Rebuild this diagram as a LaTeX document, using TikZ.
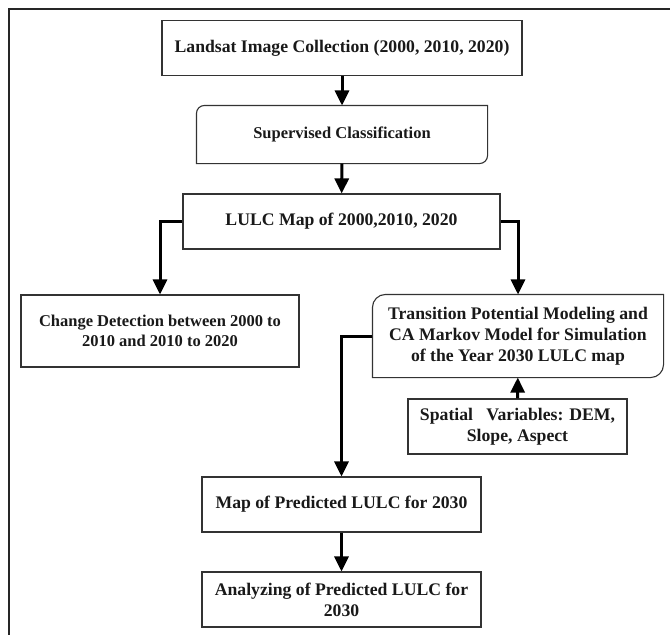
\documentclass[tikz,border=0pt]{standalone}
\usepackage{fontspec}
\setmainfont{Liberation Serif}
\usetikzlibrary{arrows.meta}
\begin{document}
\begin{tikzpicture}[x=1pt,y=-1pt,
  box/.style={draw=black!80, line width=1.1pt, align=center, inner sep=0pt,
    font=\fontsize{17.7}{21}\selectfont\bfseries, text=black!90},
  small/.style={font=\fontsize{16.5}{19.5}\selectfont\bfseries},
  rbox/.style={box, draw=none},
  rline/.style={draw=black!80, line width=1.1pt},
  conn/.style={line width=3pt, black, -{Triangle[length=15pt,width=14pt]}},
  frame/.style={line width=2pt, black!85}]
\useasboundingbox (0,0) rectangle (670,635);
\draw[frame] (8.5,635) -- (8.5,8.5) -- (670,8.5);

\node[box, minimum width=360pt, minimum height=55pt] (land) at (342,48) {Landsat Image Collection (2000, 2010, 2020)};
\node[rbox, small, minimum width=290pt, minimum height=57pt] (sup) at (342,134.5) {Supervised Classification};
\node[box, minimum width=317pt, minimum height=55pt] (lulc) at (341.5,221.5) {LULC Map of 2000,2010, 2020};
\node[box, small, minimum width=278pt, minimum height=72pt] (chg) at (160,331) {Change Detection between 2000 to\\2010 and 2010 to 2020};
\node[rbox, minimum width=290pt, minimum height=82pt] (trans) at (518,336) {Transition Potential Modeling and\\CA Markov Model for Simulation\\of the Year 2030 LULC map};
\node[box, minimum width=219pt, minimum height=55pt] (spat) at (517.5,426.5) {Spatial\ \ \ Variables: DEM,\\Slope, Aspect};
\node[box, minimum width=279pt, minimum height=55pt] (map) at (341.5,504.5) {Map of Predicted LULC for 2030};
\node[box, minimum width=279pt, minimum height=55pt] (ana) at (341.5,599.5) {Analyzing of Predicted LULC for\\2030};

% rounded outlines (top-left and bottom-right corners)
\draw[rline] ([xshift=8pt]sup.north west) -- (sup.north east) -- ([yshift=8pt]sup.south east)
  arc[start angle=0, end angle=-90, radius=8pt] -- (sup.south west) -- ([yshift=-8pt]sup.north west)
  arc[start angle=180, end angle=90, radius=8pt] -- cycle;
\draw[rline] ([xshift=13pt]trans.north west) -- (trans.north east) -- ([yshift=13pt]trans.south east)
  arc[start angle=0, end angle=-90, radius=13pt] -- (trans.south west) -- ([yshift=-13pt]trans.north west)
  arc[start angle=180, end angle=90, radius=13pt] -- cycle;

\draw[conn] (land) -- (sup);
\draw[conn] (sup) -- (lulc);
\draw[conn] (lulc.west) -| (chg.north);
\draw[conn] (lulc.east) -| (trans.north);
\draw[conn] (trans.west) -| (map.north);
\draw[conn] (spat) -- (trans);
\draw[conn] (map) -- (ana);
\end{tikzpicture}
\end{document}
